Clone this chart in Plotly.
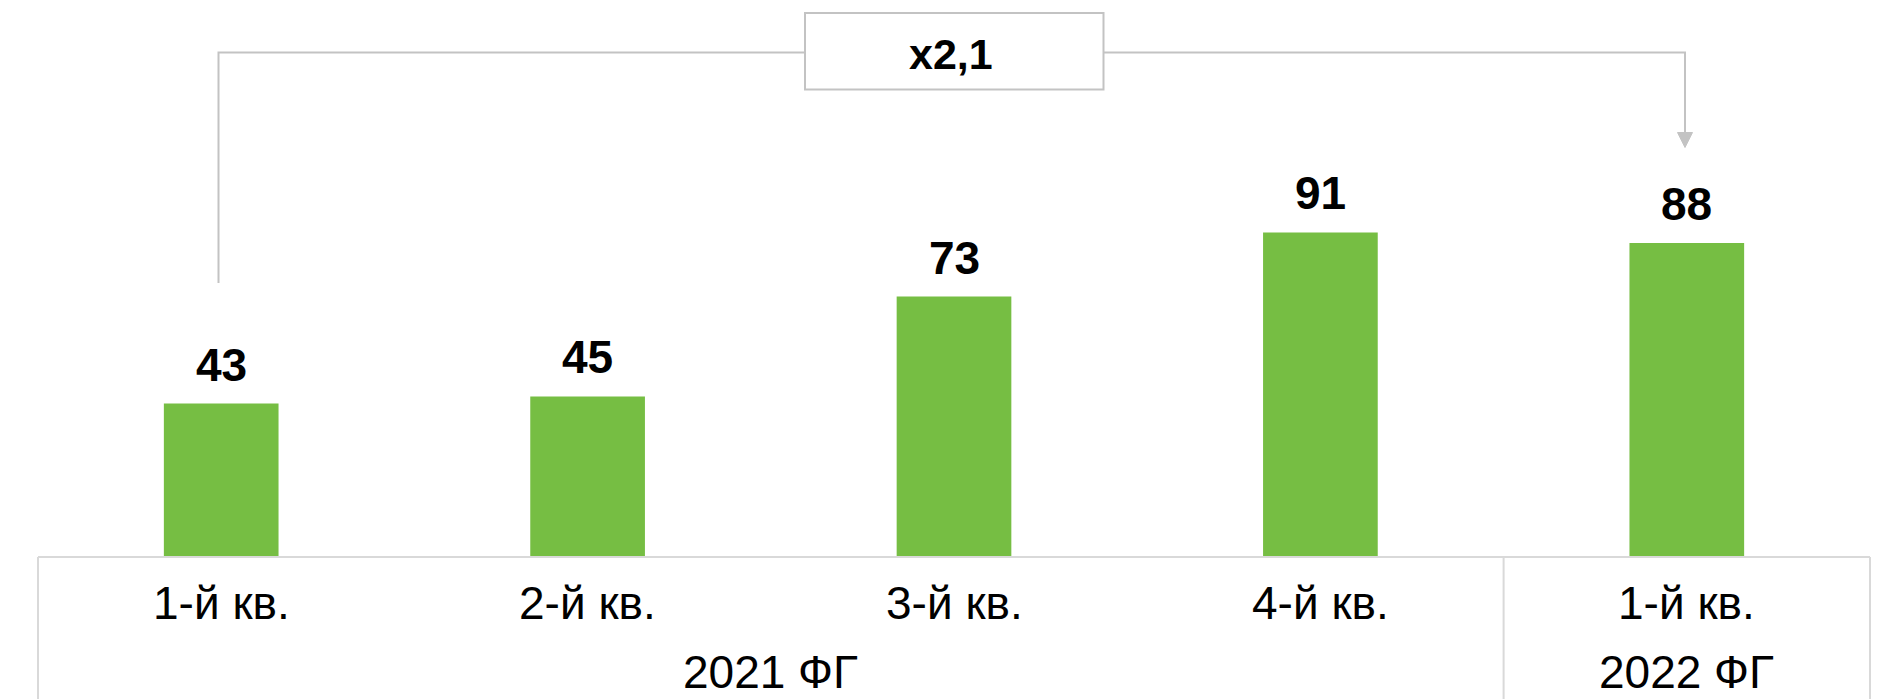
import plotly.graph_objects as go

categories = ["1-й кв.", "2-й кв.", "3-й кв.", "4-й кв.", "1-й кв."]
values = [43, 45, 73, 91, 88]
groups = ["2021 ФГ", "2022 ФГ"]
group_sizes = [4, 1]
growth_label = "x2,1"

W, H = 1890, 699
GREEN = "#76BE43"
GRAY = "#C3C3C3"
TABLE = "#D9D9D9"
FONT = "Liberation Sans, Arial, sans-serif"

def px(x):
    return x / W

def py(y):
    return 1 - y / H

x_left, x_right = 38, 1870
base_y = 557
ppu = 3.567  # pixels per unit
y_top = base_y / ppu

idx = list(range(len(categories)))

fig = go.Figure()
fig.add_trace(go.Bar(
    x=idx, y=values, marker=dict(color=GREEN, line=dict(width=0)),
    width=0.313, hoverinfo="skip",
))

fig.update_layout(
    width=W, height=H,
    margin=dict(l=0, r=0, t=0, b=0),
    paper_bgcolor="white", plot_bgcolor="white",
    showlegend=False,
    xaxis=dict(domain=[px(x_left), px(x_right)], range=[-0.5, len(categories) - 0.5],
               showticklabels=False, showgrid=False, zeroline=False, showline=False,
               fixedrange=True),
    yaxis=dict(domain=[py(base_y), 1], range=[0, y_top], visible=False,
               showgrid=False, zeroline=False, fixedrange=True),
)

annotations = []
# value labels
for i, v in zip(idx, values):
    annotations.append(dict(
        x=i, y=v, xref="x", yref="y", text=f"<b>{v}</b>", showarrow=False,
        yanchor="middle", yshift=39,
        font=dict(family=FONT, size=46, color="black"),
    ))
# category labels
for i, c in zip(idx, categories):
    annotations.append(dict(
        x=i, y=py(603), xref="x", yref="paper", text=c, showarrow=False,
        yanchor="middle", font=dict(family=FONT, size=46, color="black"),
    ))
# group labels
start = 0
for g, n in zip(groups, group_sizes):
    center = start + (n - 1) / 2
    annotations.append(dict(
        x=center, y=py(672), xref="x", yref="paper", text=g, showarrow=False,
        yanchor="middle", font=dict(family=FONT, size=46, color="black"),
    ))
    start += n

shapes = []
line_style = dict(color=TABLE, width=2)
# table lines
shapes.append(dict(type="line", xref="paper", yref="paper",
                   x0=px(x_left), x1=px(x_right), y0=py(base_y), y1=py(base_y), line=line_style))
shapes.append(dict(type="line", xref="paper", yref="paper",
                   x0=px(x_left), x1=px(x_left), y0=py(base_y), y1=0, line=line_style))
shapes.append(dict(type="line", xref="paper", yref="paper",
                   x0=px(x_right), x1=px(x_right), y0=py(base_y), y1=0, line=line_style))
# group separator
sep = group_sizes[0] - 0.5
shapes.append(dict(type="line", xref="x", yref="paper",
                   x0=sep, x1=sep, y0=py(base_y), y1=0, line=line_style))

# bracket
bx0, bx1 = 218.5, 1685
by = 52.5
shapes.append(dict(type="path", xref="paper", yref="paper",
                   path=f"M {px(bx0)},{py(283)} L {px(bx0)},{py(by)} L {px(bx1)},{py(by)} L {px(bx1)},{py(134)}",
                   line=dict(color=GRAY, width=2)))
# arrowhead
shapes.append(dict(type="path", xref="paper", yref="paper",
                   path=f"M {px(bx1-7.5)},{py(132.5)} L {px(bx1+7.5)},{py(132.5)} L {px(bx1)},{py(147.5)} Z",
                   fillcolor=GRAY, line=dict(color=GRAY, width=1)))
# box
shapes.append(dict(type="rect", xref="paper", yref="paper",
                   x0=px(805), x1=px(1103.5), y0=py(89.5), y1=py(13),
                   fillcolor="white", line=dict(color=GRAY, width=2)))

annotations.append(dict(
    x=px(951), y=py(54), xref="paper", yref="paper", text=f"<b>{growth_label}</b>",
    showarrow=False, yanchor="middle", font=dict(family=FONT, size=43, color="black"),
))

fig.update_layout(shapes=shapes, annotations=annotations)
fig.write_html("out.html", config={"displayModeBar": False},
               post_script="document.body.style.margin='0px';document.body.style.overflow='hidden';")
